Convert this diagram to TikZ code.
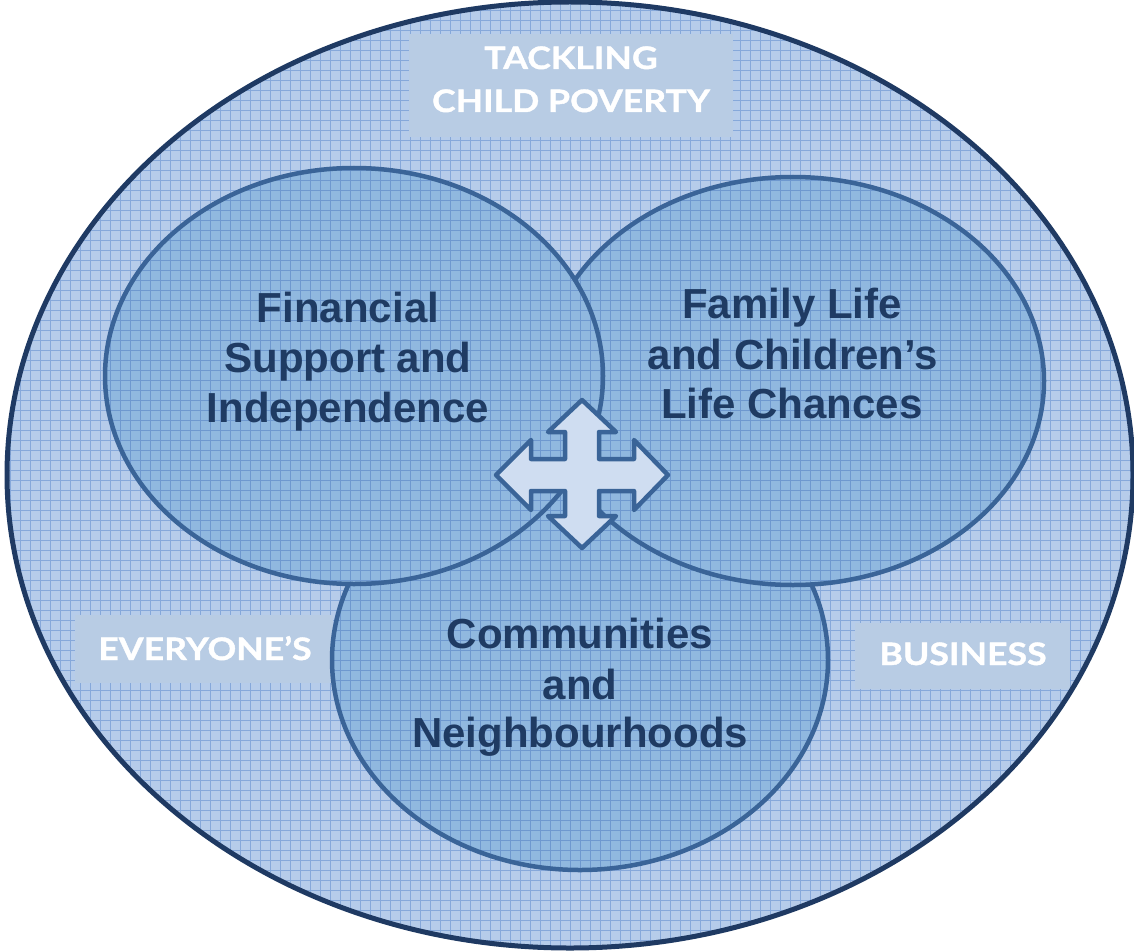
\documentclass[tikz,border=0pt]{standalone}
\usepackage{fontspec}
\setmainfont{Liberation Sans}
\newfontfamily\capsfont[FakeStretch=1.15, BoldFeatures={FakeBold=1.2}]{Lato}
\usetikzlibrary{shapes.geometric}

\definecolor{outerbg}{HTML}{B6CCEA}
\definecolor{outergrid}{HTML}{86A8DA}
\definecolor{innerbg}{HTML}{90B8DF}
\definecolor{innergrid}{HTML}{6E98CF}
\definecolor{rim}{HTML}{1F3A63}
\definecolor{ringline}{HTML}{3A6498}
\definecolor{labelbox}{HTML}{B8CCE4}
\definecolor{labeltext}{HTML}{1F3B63}
\definecolor{arrowfill}{HTML}{CFDDF1}

\tikzset{
  gridlines/.style={draw=#1, line width=0.8pt},
  banner/.style={fill=labelbox, draw=none},
  bannertext/.style={text=white, font=\capsfont\bfseries\fontsize{31}{36}\selectfont, inner sep=0pt, anchor=base},
  ringtext/.style={text=labeltext, font=\bfseries\fontsize{42}{50}\selectfont, inner sep=0pt, anchor=base},
  ringedge/.style={draw=ringline, line width=4.5pt},
}

% a shape filled with a base colour and a 10pt grid laid over it
\newcommand{\gridfill}[3]{%
  \fill[#2] #1;
  \begin{scope}
    \clip #1;
    \draw[gridlines=#3] (0,0) grid[step=10pt] (1140,960);
  \end{scope}
}

\begin{document}
\begin{tikzpicture}[x=1pt,y=-1pt]
\useasboundingbox (0,0) rectangle (1134,952);

% outer ellipse
\gridfill{(570,475) ellipse [x radius=563, y radius=473]}{outerbg}{outergrid}

% corner banners
\path[banner] (409,34) rectangle (733,137);
\path[banner] (75,615) rectangle (333,683);
\path[banner] (855,623) rectangle (1070,689);

\draw[rim, line width=5pt] (570,475) ellipse [x radius=563, y radius=473];

% three overlapping rings: bottom, right, left
\gridfill{(580,660) ellipse [x radius=248, y radius=210]}{innerbg}{innergrid}
\draw[ringedge] (580,660) ellipse [x radius=248, y radius=210];

\gridfill{(793,381) ellipse [x radius=251, y radius=204]}{innerbg}{innergrid}
\draw[ringedge] (793,381) ellipse [x radius=251, y radius=204];

\gridfill{(354,376) ellipse [x radius=249, y radius=208]}{innerbg}{innergrid}
\draw[ringedge] (354,376) ellipse [x radius=249, y radius=208];

% banner texts
\node[bannertext] (t1) at (571,69) {TACKLING};
\node[bannertext] (t2) at (571,112) {CHILD POVERTY};
\node[bannertext] (t3) at (205,660) {EVERYONE’S};
\node[bannertext] (t4) at (963,665) {BUSINESS};

% ring labels
\node[ringtext] (a1) at (348,322) {Financial};
\node[ringtext] (a2) at (348,372) {Support and};
\node[ringtext] (a3) at (348,422) {Independence};

\node[ringtext] (b1) at (792,318) {Family Life};
\node[ringtext] (b2) at (793,369) {and Children’s};
\node[ringtext] (b3) at (792,418) {Life Chances};

\node[ringtext] (c1) at (580,648) {Communities};
\node[ringtext] (c2) at (580,699) {and};
\node[ringtext] (c3) at (580,747) {Neighbourhoods};

% four-way arrow in the middle
\begin{scope}[shift={(582,475)}]
\draw[fill=arrowfill, draw=ringline, line width=4.5pt, line join=round]
  (0,-75) -- (34,-43) -- (17,-43) -- (17,-16) -- (52,-16) -- (52,-35) -- (86,0)
  -- (52,35) -- (52,16) -- (17,16) -- (17,41) -- (34,41) -- (0,73)
  -- (-34,41) -- (-17,41) -- (-17,16) -- (-51,16) -- (-51,35) -- (-86,0)
  -- (-51,-35) -- (-51,-16) -- (-17,-16) -- (-17,-43) -- (-34,-43) -- cycle;
\end{scope}
\end{tikzpicture}
\end{document}
